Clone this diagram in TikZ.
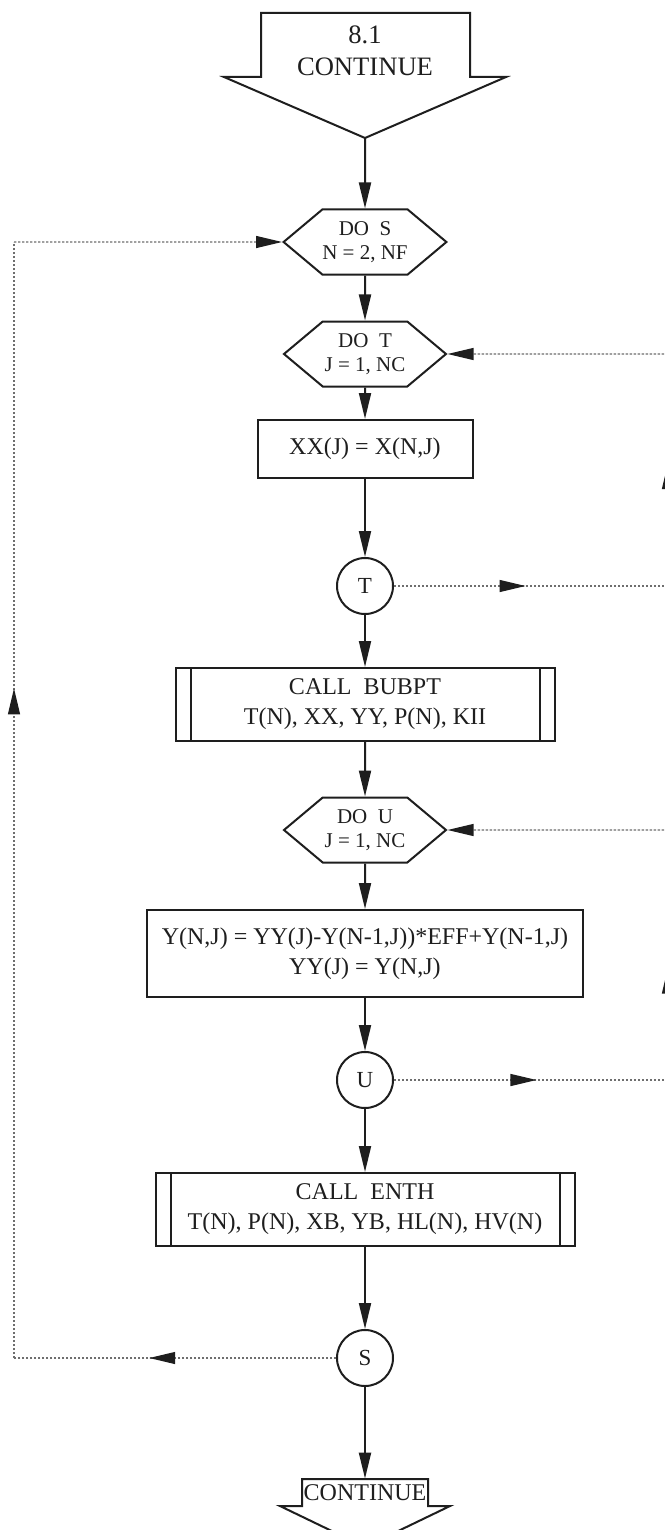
\documentclass[tikz,border=0pt]{standalone}
\usepackage{fontspec}
\setmainfont{Liberation Serif}
\usetikzlibrary{arrows.meta,decorations.markings,shapes.symbols}
\definecolor{fcInk}{HTML}{1E1E1E}
\definecolor{fcDot}{HTML}{6E6E6E}
\tikzset{
  fcHead/.tip={Triangle[length=13pt,width=6pt,color=fcInk]},
  fc diagram/.style={x=0.5pt, y=-0.5pt, font=\fontsize{12}{15}\selectfont,
    text=fcInk},
  fc box/.style={draw=fcInk, fill=white, line width=1pt, align=center,
    inner sep=0pt},
  fc sub box/.style={fc box, path picture={
    \draw[fcInk, line width=1pt]
      ([xshift=7.5pt]path picture bounding box.north west) --
      ([xshift=7.5pt]path picture bounding box.south west)
      ([xshift=-7.5pt]path picture bounding box.north east) --
      ([xshift=-7.5pt]path picture bounding box.south east);}},
  fc loop box/.style={fc box, shape=signal, signal to=west and east,
    signal pointer angle=80, minimum width=81pt, minimum height=32.5pt,
    font=\fontsize{10.5}{12}\selectfont},
  fc connector/.style={fc box, circle, minimum size=28pt,
    font=\fontsize{11.5}{12}\selectfont},
  fc outline/.style={draw=fcInk, line width=1pt},
  fc arrow/.style={-{fcHead}, draw=fcInk, line width=1pt},
  fc loop/.style={draw=fcDot, line width=0.6pt, dash pattern=on 1.2pt off 0.8pt},
  fc loop arrow/.style={fc loop, -{fcHead}},
  fc mid arrow/.style={fc loop, postaction={decorate},
    decoration={markings, mark=at position #1 with {\arrow{fcHead}}}}
}

\begin{document}
\begin{tikzpicture}[fc diagram]
\useasboundingbox[fill=white] (0,0) rectangle (664,1530);
% entry and exit connectors
\draw[fc outline] (261,13) -- (470,13) -- (470,77) -- (506,77) -- (365,138)
  -- (224,77) -- (261,77) -- cycle;
\node[align=center, font=\fontsize{13.3}{16}\selectfont] (cont) at (365,51) {8.1\\CONTINUE};
\coordinate (conttip) at (365,138);
\draw[fc outline] (302,1479) -- (428,1479) -- (428,1506) -- (450,1506)
  -- (365,1547) -- (280,1506) -- (302,1506) -- cycle;
\node[inner sep=0pt, minimum height=13.5pt] (endc) at (365,1492.5) {CONTINUE};
% flow nodes
\node[fc loop box] (dos) at (365,242) {DO\ \ S\\N = 2, NF};
\node[fc loop box] (dot) at (365,354) {DO\ \ T\\J = 1, NC};
\node[fc box, minimum width=107.5pt, minimum height=29pt] (xx) at (365,449) {XX(J) = X(N,J)};
\node[fc connector] (t) at (365,586) {T};
\node[fc sub box, minimum width=189.5pt, minimum height=36.5pt] (bubpt) at (365,704.5)
  {CALL\ \ BUBPT\\T(N), XX, YY, P(N), KII};
\node[fc loop box] (dou) at (365,830) {DO\ \ U\\J = 1, NC};
\node[fc box, minimum width=218pt, minimum height=43.5pt] (yy) at (365,953.5)
  {Y(N,J) = YY(J)-Y(N-1,J))*EFF+Y(N-1,J)\\YY(J) = Y(N,J)};
\node[fc connector] (u) at (365,1080) {U};
\node[fc sub box, minimum width=209.5pt, minimum height=36.5pt] (enth) at (365,1209.5)
  {CALL\ \ ENTH\\T(N), P(N), XB, YB, HL(N), HV(N)};
\node[fc connector] (s) at (365,1358) {S};
% main flow
\draw[fc arrow] (conttip) -- (dos);
\foreach \a/\b in {dos/dot,dot/xx,xx/t,t/bubpt,bubpt/dou,dou/yy,yy/u,u/enth,enth/s,s/endc}
  \draw[fc arrow] (\a) -- (\b);
% loop returns
\coordinate (sl) at (14,1358);
\coordinate (tl) at (14,242);
\draw[fc mid arrow=0.58] (s) -- (sl);
\draw[fc mid arrow=0.6] (sl) -- (tl);
\draw[fc loop arrow] (tl) -- (dos);
\coordinate (tr) at (668,586);
\coordinate (tt) at (668,354);
\draw[fc mid arrow=0.48] (t) -- (tr);
\draw[fc mid arrow=0.53] (tr) -- (tt);
\draw[fc loop arrow] (tt) -- (dot);
\coordinate (ur) at (668,1080);
\coordinate (ut) at (668,830);
\draw[fc mid arrow=0.52] (u) -- (ur);
\draw[fc mid arrow=0.45] (ur) -- (ut);
\draw[fc loop arrow] (ut) -- (dou);
\end{tikzpicture}
\end{document}
